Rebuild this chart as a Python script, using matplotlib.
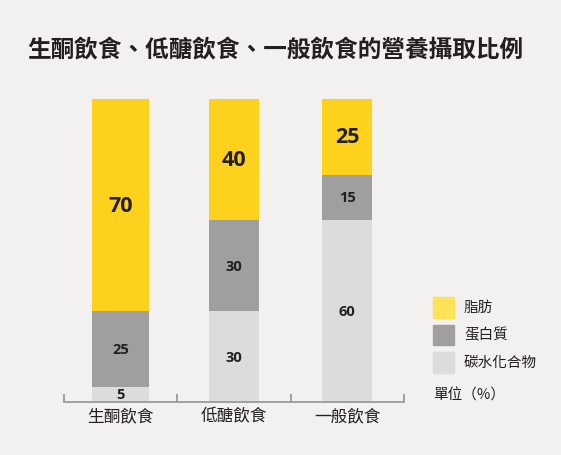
import matplotlib
matplotlib.use("Agg")
import matplotlib.pyplot as plt
from matplotlib.patches import Rectangle
import numpy as np

plt.rcParams['font.family'] = ['Noto Sans CJK TC', 'DejaVu Sans']

# data
categories = ['生酮飲食', '低醣飲食', '一般飲食']
carbs = [5, 30, 60]
protein = [25, 30, 15]
fat = [70, 40, 25]
series_names = ['脂肪', '蛋白質', '碳水化合物']
title = '生酮飲食、低醣飲食、一般飲食的營養攝取比例'
unit_note = '單位（%）'

bg = '#f2f1ef'
c_fat = '#fdd11c'
c_fat_legend = '#fde25a'
c_protein = '#9f9f9f'
c_carbs = '#dcdcdc'
dark = '#231f20'

fig = plt.figure(figsize=(5.61, 4.56), dpi=100, facecolor=bg)
ax = fig.add_axes([64 / 561, 53 / 456, 340 / 561, 303 / 456])
ax.set_facecolor(bg)

x = np.arange(len(categories)) + 0.5
widths = [0.5, 0.44, 0.44]

ax.bar(x, carbs, width=widths, color=c_carbs)
ax.bar(x, protein, width=widths, bottom=carbs, color=c_protein)
bottom_fat = np.array(carbs) + np.array(protein)
ax.bar(x, fat, width=widths, bottom=bottom_fat, color=c_fat)

# value labels (numbers in Open Sans)
num_font = ['Open Sans', 'DejaVu Sans']
for i in range(len(categories)):
    ax.text(x[i], carbs[i] / 2, str(carbs[i]), ha='center', va='center',
            fontsize=10.5, fontweight='bold', color=dark, family=num_font)
    ax.text(x[i], carbs[i] + protein[i] / 2, str(protein[i]), ha='center', va='center',
            fontsize=10.5, fontweight='bold', color=dark, family=num_font)
    ax.text(x[i], bottom_fat[i] + fat[i] / 2, str(fat[i]), ha='center', va='center',
            fontsize=15.5, fontweight='bold', color=dark, family=num_font)

ax.set_xlim(0, 3)
ax.set_ylim(0, 100)
for s in ['top', 'right', 'left']:
    ax.spines[s].set_visible(False)
ax.spines['bottom'].set_color('#9a9a9a')
ax.spines['bottom'].set_linewidth(1.3)
ax.set_yticks([])
ax.set_xticks([0, 1, 2, 3])
ax.set_xticklabels([])
ax.tick_params(axis='x', which='major', direction='in', length=6, width=1.3, color='#9a9a9a')
ax.set_xticks(x, minor=True)
ax.set_xticklabels(categories, minor=True, fontsize=12, color=dark)
ax.tick_params(axis='x', which='minor', length=0, pad=4)

# title
fig.text(27 / 561, 1 - 50 / 456, title, ha='left', va='center',
         fontsize=17, fontweight='bold', color=dark)

# legend
leg_colors = [c_fat_legend, c_protein, c_carbs]
for k, (name, col) in enumerate(zip(series_names, leg_colors)):
    y_top = 298 + k * 27.5
    fig.patches.append(Rectangle((433 / 561, 1 - (y_top + 20.5) / 456), 20.5 / 561, 20.5 / 456,
                                 transform=fig.transFigure, color=col))
    fig.text(464 / 561, 1 - (y_top + 10) / 456, name, ha='left', va='center',
             fontsize=10.5, color=dark)
fig.text(433 / 561, 1 - 396 / 456, unit_note, ha='left', va='center',
         fontsize=10.5, color=dark)

fig.savefig('out.png', dpi=100, facecolor=bg)
